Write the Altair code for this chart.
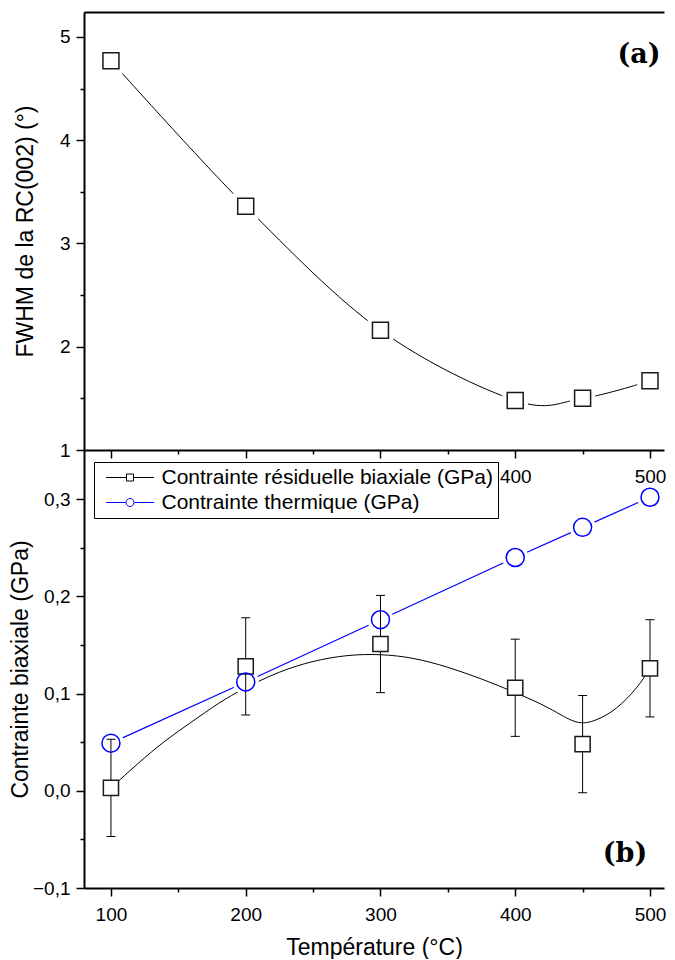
import altair as alt
import pandas as pd

# ---------------- data ----------------
temps = [100, 200, 300, 400, 450, 500]
fwhm = [4.77, 3.36, 2.16, 1.48, 1.50, 1.67]
stress = [0.003, 0.128, 0.151, 0.106, 0.048, 0.126]
stress_err = [0.05, 0.05, 0.05, 0.05, 0.05, 0.05]
thermal = [0.049, 0.112, 0.176, 0.240, 0.271, 0.302]
fit_temps = [100, 120, 140, 160, 180, 200, 225, 250, 275, 300, 325, 350, 375,
             400, 425, 445, 460, 475, 490, 500]
fit_vals = [0.003, 0.028, 0.051, 0.071, 0.090, 0.106, 0.122, 0.133, 0.139, 0.140,
            0.136, 0.127, 0.115, 0.101, 0.085, 0.071, 0.073, 0.085, 0.106, 0.126]
series_names = ["Contrainte résiduelle biaxiale (GPa)", "Contrainte thermique (GPa)"]
x_major = [100, 200, 300, 400, 500]
x_minor = [150, 250, 350, 450]
ya_major = [1, 2, 3, 4, 5]
ya_minor = [1.5, 2.5, 3.5, 4.5]
yb_major = [-0.1, 0.0, 0.1, 0.2, 0.3]
yb_minor = [-0.05, 0.05, 0.15, 0.25]
x_title = "Température (°C)"
ya_title = "FWHM de la RC(002) (°)"
yb_title = "Contrainte biaxiale (GPa)"

pts = pd.DataFrame({
    "T": temps, "fwhm": fwhm, "s": stress,
    "lo": [v - e for v, e in zip(stress, stress_err)],
    "hi": [v + e for v, e in zip(stress, stress_err)],
    "th": thermal,
})
fit = pd.DataFrame({"T": fit_temps, "v": fit_vals})
leg = pd.DataFrame({"series": series_names})

# ---------------- styling ----------------
FONT = "Liberation Sans"
W, H = 580, 438
xs = alt.Scale(domain=[80, 510.4], nice=False, zero=False)
ysa = alt.Scale(domain=[1, 5.242], nice=False, zero=False)
ysb = alt.Scale(domain=[-0.1, 0.3506], nice=False, zero=False)
BLUE = "#0000FF"


def x_major_axis(title_pad):
    return alt.Axis(values=x_major, format="d", title=x_title, orient="bottom",
                    labelFont=FONT, labelFontSize=19, labelColor="black",
                    titleFont=FONT, titleFontSize=23, titleFontWeight="normal",
                    titleColor="black", tickSize=8, tickWidth=1.5, tickColor="black",
                    domainWidth=2, domainColor="black", labelPadding=9,
                    titlePadding=title_pad, grid=False)


def x_minor_axis():
    return alt.Axis(values=x_minor, labels=False, title=None, orient="bottom",
                    tickSize=4, tickWidth=1.5, tickColor="black", domain=False,
                    grid=False)


def y_major_axis(values, title, expr, tx, height):
    return alt.Axis(values=values, title=title, orient="left", labelExpr=expr,
                    labelFont=FONT, labelFontSize=19, labelColor="black",
                    titleFont=FONT, titleFontSize=23, titleFontWeight="normal",
                    titleColor="black", titleX=tx, titleY=height / 2,
                    titleAlign="center", titleBaseline="middle", titleAngle=-90,
                    tickSize=8, tickWidth=1.5, tickColor="black",
                    domainWidth=2, domainColor="black", labelPadding=6, grid=False)


def y_minor_axis(values):
    return alt.Axis(values=values, labels=False, title=None, orient="left",
                    tickSize=4, tickWidth=1.5, tickColor="black", domain=False,
                    grid=False)


# ---------------- panel (a) ----------------
a_line = alt.Chart(pts).mark_line(color="black", strokeWidth=1, interpolate="cardinal").encode(
    x=alt.X("T:Q", scale=xs, axis=x_major_axis(7)),
    y=alt.Y("fwhm:Q", scale=ysa,
            axis=y_major_axis(ya_major, ya_title, "format(datum.value, 'd')", -59, H)),
)
a_halo = alt.Chart(pts).mark_square(size=650, color="white", opacity=1).encode(
    x=alt.X("T:Q", scale=xs, axis=x_minor_axis()),
    y=alt.Y("fwhm:Q", scale=ysa, axis=y_minor_axis(ya_minor)),
)
a_sq = alt.Chart(pts).mark_square(size=256, fill="white", stroke="#1a1a1a",
                                  strokeWidth=1.5, opacity=1).encode(
    x=alt.X("T:Q", scale=xs,
            axis=alt.Axis(orient="top", labels=False, ticks=False, title=None,
                          domainWidth=2, domainColor="black", grid=False)),
    y=alt.Y("fwhm:Q", scale=ysa, axis=None),
)
a_txt = alt.Chart(pd.DataFrame({"label": ["(a)"]})).mark_text(
    font="DejaVu Serif", fontWeight="bold", fontSize=27, align="center",
    baseline="middle", color="black").encode(
    x=alt.value(555), y=alt.value(43), text="label:N")

top = alt.layer(a_line, a_halo, a_sq, a_txt).resolve_axis(
    x="independent", y="independent").properties(width=W, height=H)

# ---------------- panel (b) ----------------
b_fit = alt.Chart(fit).mark_line(color="black", strokeWidth=1, interpolate="natural").encode(
    x=alt.X("T:Q", scale=xs, axis=x_major_axis(12)),
    y=alt.Y("v:Q", scale=ysb,
            axis=y_major_axis(yb_major, yb_title,
                              "replace(format(datum.value, '.1f'), '.', ',')", -64, H)),
)
b_th = alt.Chart(pts).mark_line(color=BLUE, strokeWidth=1.2).encode(
    x=alt.X("T:Q", scale=xs, axis=x_minor_axis()),
    y=alt.Y("th:Q", scale=ysb, axis=y_minor_axis(yb_minor)),
)
b_halo = alt.Chart(pts).mark_circle(size=680, color="white", opacity=1).encode(
    x=alt.X("T:Q", scale=xs, axis=None),
    y=alt.Y("th:Q", scale=ysb, axis=None),
)
b_err = alt.Chart(pts).mark_rule(color="black", strokeWidth=1).encode(
    x=alt.X("T:Q", scale=xs, axis=None),
    y=alt.Y("lo:Q", scale=ysb, axis=None), y2="hi:Q",
)
b_cap_lo = alt.Chart(pts).mark_tick(orient="horizontal", size=9, thickness=1,
                                    color="black", opacity=1).encode(
    x=alt.X("T:Q", scale=xs, axis=None),
    y=alt.Y("lo:Q", scale=ysb, axis=None),
)
b_cap_hi = alt.Chart(pts).mark_tick(orient="horizontal", size=9, thickness=1,
                                    color="black", opacity=1).encode(
    x=alt.X("T:Q", scale=xs, axis=None),
    y=alt.Y("hi:Q", scale=ysb, axis=None),
)
b_sq = alt.Chart(pts).mark_square(size=230, fill="white", stroke="#1a1a1a",
                                  strokeWidth=1.5, opacity=1).encode(
    x=alt.X("T:Q", scale=xs, axis=None),
    y=alt.Y("s:Q", scale=ysb, axis=None),
)
b_ci = alt.Chart(pts).mark_point(shape="circle", size=324, filled=False, color=BLUE,
                                 strokeWidth=1.5, opacity=1).encode(
    x=alt.X("T:Q", scale=xs, axis=None),
    y=alt.Y("th:Q", scale=ysb, axis=None),
)
b_txt = alt.Chart(pd.DataFrame({"label": ["(b)"]})).mark_text(
    font="DejaVu Serif", fontWeight="bold", fontSize=27, align="center",
    baseline="middle", color="black").encode(
    x=alt.value(541), y=alt.value(404), text="label:N")

sq_path = "M-4.8,0H-0.8M0.8,0H4.8M-0.7,-0.7H0.7V0.7H-0.7Z"
ci_path = ("M-4.8,0H-0.85M0.85,0H4.8M0.8,0A0.8,0.8 0 1,1 -0.8,0"
           "A0.8,0.8 0 1,1 0.8,0Z")
b_leg = alt.Chart(leg).mark_point(filled=False, opacity=1).encode(
    color=alt.Color("series:N",
                    scale=alt.Scale(domain=series_names, range=["black", BLUE]),
                    legend=alt.Legend(orient="none", legendX=10, legendY=H + 12,
                                      title=None, fillColor="white",
                                      strokeColor="black", padding=5,
                                      labelFont=FONT, labelFontSize=21,
                                      labelColor="black", symbolSize=100,
                                      symbolStrokeWidth=1, symbolOffset=20.5,
                                      labelOffset=21, rowPadding=3,
                                      labelExpr="datum.label + '\u00a0\u00a0\u00a0\u00a0'",
                                      labelLimit=600)),
    shape=alt.Shape("series:N",
                    scale=alt.Scale(domain=series_names, range=[sq_path, ci_path])),
).transform_filter("false")

bottom = alt.layer(b_fit, b_th, b_halo, b_err, b_cap_lo, b_cap_hi, b_sq, b_ci,
                   b_txt, b_leg).resolve_axis(
    x="independent", y="independent").properties(width=W, height=H)

chart = alt.vconcat(top, bottom, spacing=0, bounds="flush").properties(
    background="white",
    padding={"left": 1, "top": 4, "right": 0, "bottom": 0},
).configure_view(stroke=None)

chart.save("out.html", embed_options={"renderer": "svg", "actions": False})
